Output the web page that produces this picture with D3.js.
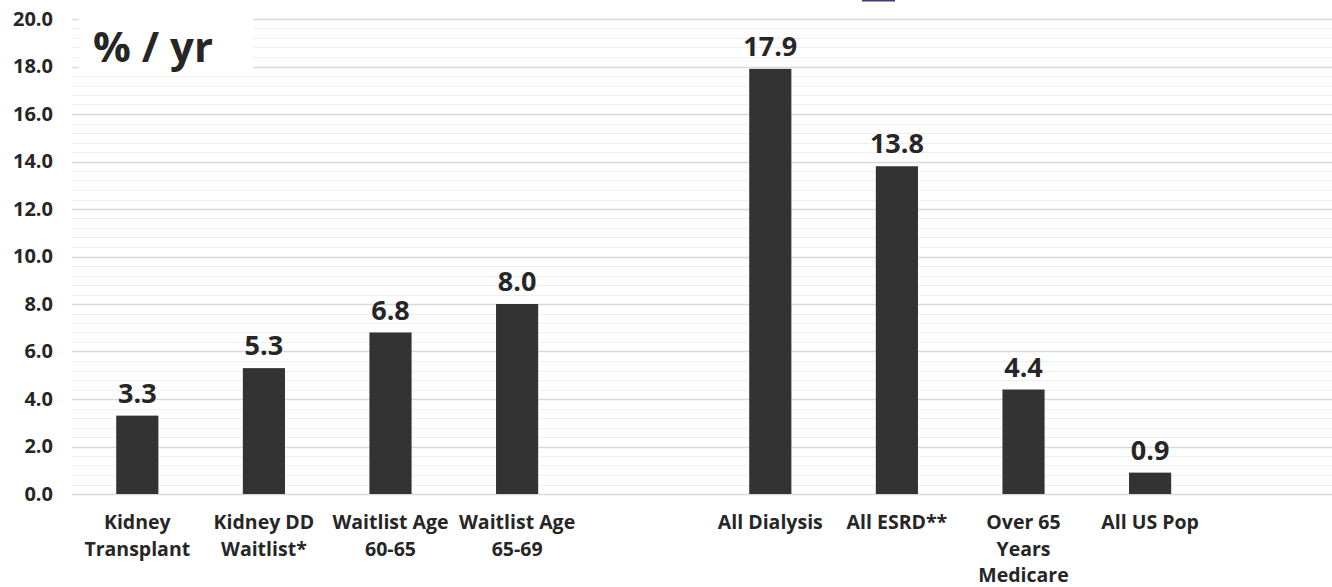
<!DOCTYPE html>
<html>
<head>
<meta charset="utf-8">
<script src="https://cdn.jsdelivr.net/npm/d3@7"></script>
<style>
  html, body { margin: 0; padding: 0; background: #fff; }
  svg { display: block; }
  text { font-family: "Open Sans", "Noto Sans", sans-serif; font-weight: 700; fill: #262626; }
</style>
</head>
<body>
<svg id="chart" width="1332" height="587"></svg>
<script>
// Annual mortality rates (% per year); null entries are spacer slots in the layout
const categories = [
  ["Kidney", "Transplant"],
  ["Kidney DD", "Waitlist*"],
  ["Waitlist Age", "60-65"],
  ["Waitlist Age", "65-69"],
  null,
  ["All Dialysis"],
  ["All ESRD**"],
  ["Over 65", "Years", "Medicare"],
  ["All US Pop"],
  null
];
const values = [3.3, 5.3, 6.8, 8.0, null, 17.9, 13.8, 4.4, 0.9, null];
const yTicks = [0, 2, 4, 6, 8, 10, 12, 14, 16, 18, 20];
const minorStep = 0.4;
const unitLabel = "% / yr";

const svg = d3.select("#chart");
const plotLeft = 72, plotRight = 1332, plotTop = 19, plotBottom = 494;

const x = d3.scaleBand()
  .domain(d3.range(categories.length))
  .range([74, 1340])
  .paddingInner(0.667)
  .paddingOuter(0.3335);

const y = d3.scaleLinear().domain([0, 20]).range([plotBottom, plotTop]);

// minor gridlines
const minor = d3.range(0, 20 + 1e-9, minorStep).filter(v => Math.abs(v / 2 - Math.round(v / 2)) > 1e-6);
svg.append("g").selectAll("line").data(minor).join("line")
  .attr("x1", plotLeft).attr("x2", plotRight)
  .attr("y1", d => Math.round(y(d)) + 0.5).attr("y2", d => Math.round(y(d)) + 0.5)
  .attr("stroke", "#efefef").attr("stroke-width", 1);

// major gridlines
svg.append("g").selectAll("line").data(yTicks).join("line")
  .attr("x1", plotLeft).attr("x2", plotRight)
  .attr("y1", d => Math.round(y(d)) + 0.5).attr("y2", d => Math.round(y(d)) + 0.5)
  .attr("stroke", "#d9d9d9").attr("stroke-width", 1.3);

// y axis tick labels
const yAxis = d3.axisLeft(y).tickValues(yTicks).tickSize(0).tickPadding(0)
  .tickFormat(d3.format(".1f"));
const ya = svg.append("g").attr("transform", `translate(53,0)`).call(yAxis);
ya.select(".domain").remove();
ya.selectAll("text")
  .attr("font-family", "\"Open Sans\", sans-serif")
  .attr("font-size", 20).attr("font-weight", 700).attr("fill", "#262626");

// unit box
svg.append("rect").attr("x", 79).attr("y", 8).attr("width", 174).attr("height", 63).attr("fill", "#fff");
svg.append("text").attr("x", 93).attr("y", 62)
  .attr("font-size", 42).text(unitLabel);

// bars
const data = values.map((v, i) => ({ i, v, c: categories[i] })).filter(d => d.v !== null);
svg.append("g").selectAll("rect").data(data).join("rect")
  .attr("x", d => x(d.i))
  .attr("width", x.bandwidth())
  .attr("y", d => y(d.v))
  .attr("height", d => y(0) - y(d.v))
  .attr("fill", "#333333");

// value labels
svg.append("g").selectAll("text").data(data).join("text")
  .attr("x", d => x(d.i) + x.bandwidth() / 2)
  .attr("y", d => y(d.v) - 13)
  .attr("text-anchor", "middle")
  .attr("font-size", 27)
  .text(d => d3.format(".1f")(d.v));

// category labels
const cat = svg.append("g").selectAll("text").data(data).join("text")
  .attr("x", d => x(d.i) + x.bandwidth() / 2)
  .attr("y", 529)
  .attr("text-anchor", "middle")
  .attr("font-size", 19.5);
cat.selectAll("tspan").data(d => d.c.map(line => ({ line, cx: x(d.i) + x.bandwidth() / 2 })))
  .join("tspan")
  .attr("x", t => t.cx)
  .attr("dy", (t, k) => k === 0 ? 0 : 26.5)
  .text(t => t.line);

// small underline mark at the top edge
svg.append("rect").attr("x", 862).attr("y", 0).attr("width", 33).attr("height", 1.5).attr("fill", "#4a3a6a");
</script>
</body>
</html>
